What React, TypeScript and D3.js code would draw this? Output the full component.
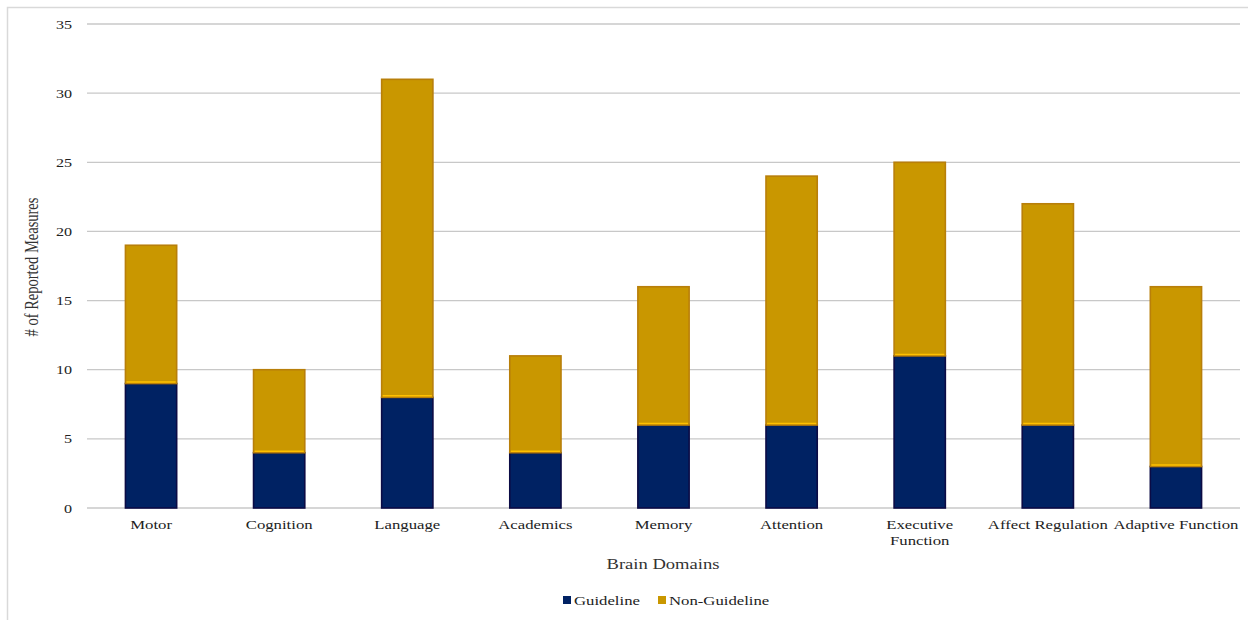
import React from "react";
import * as d3 from "d3";

const categories = ["Motor", "Cognition", "Language", "Academics", "Memory", "Attention", "Executive Function", "Affect Regulation", "Adaptive Function"];
const guideline = [9, 4, 8, 4, 6, 6, 11, 6, 3];
const nonGuideline = [10, 6, 23, 7, 10, 18, 14, 16, 13];
const yTicks = [0, 5, 10, 15, 20, 25, 30, 35];
const seriesNames = ["Guideline", "Non-Guideline"];

const W = 1248, H = 620;
const M = { left: 87, right: 8, top: 24, bottom: 112 };
const FONT = "'Liberation Serif', 'Times New Roman', serif";
const SX = 1.24;

function T({ x, y, anchor = "start", size = 13.5, fill = "#222", rotate = 0, children }: any) {
  return (
    <text transform={`translate(${x},${y}) scale(${SX},1) rotate(${rotate})`} textAnchor={anchor}
      fontFamily={FONT} fontSize={size} fill={fill}>{children}</text>
  );
}

export default function App() {
  const x = d3.scaleBand<string>().domain(categories).range([M.left, W - M.right]).paddingInner(0.6).paddingOuter(0.3);
  const y = d3.scaleLinear().domain([0, 35]).range([H - M.bottom, M.top]);
  const rows = categories.map((c, i) => ({ cat: c, Guideline: guideline[i], "Non-Guideline": nonGuideline[i] }));
  const stack = d3.stack<any>().keys(seriesNames)(rows);
  const fills = ["#002263", "#C99700"];
  const strokes = ["#0b0b45", "#b87f0a"];
  return (
    <svg width={W} height={H} style={{ position: "absolute", left: 0, top: 0, background: "#fff" }}>
      <rect x={7.5} y={7.5} width={W + 10} height={H + 10} fill="#fff" stroke="#d9d9d9" strokeWidth={1.5} />
      {yTicks.map(t => (
        <g key={t}>
          <line x1={M.left} x2={W - M.right} y1={y(t)} y2={y(t)} stroke="#c8c8c8" strokeWidth={1.3} />
          <T x={72} y={y(t) + 4.5} anchor="end" size={13}>{t}</T>
        </g>
      ))}
      {stack.map((s, si) => (
        <g key={si}>
          {s.map((d, i) => (
            <rect key={i} x={x(categories[i])!} width={x.bandwidth()} y={y(d[1])} height={y(d[0]) - y(d[1])}
              fill={fills[si]} stroke={strokes[si]} strokeWidth={1.6} />
          ))}
        </g>
      ))}
      {stack[0].map((d, i) => (
        <line key={i} x1={x(categories[i])! + 1} x2={x(categories[i])! + x.bandwidth() - 1} y1={y(d[1]) - 1.5} y2={y(d[1]) - 1.5} stroke="#ffc000" strokeWidth={1.5} />
      ))}
      {categories.map(c => {
        const cx = x(c)! + x.bandwidth() / 2;
        const lines = c === "Executive Function" ? ["Executive", "Function"] : [c];
        return (
          <g key={c}>
            {lines.map((l, k) => <T key={k} x={cx} y={529 + k * 16} anchor="middle" size={13.5}>{l}</T>)}
          </g>
        );
      })}
      <T x={663} y={569} anchor="middle" size={15} fill="#333">Brain Domains</T>
      <T x={38} y={267} anchor="middle" size={14.5} fill="#333" rotate={-90}># of Reported Measures</T>
      <rect x={563} y={596} width={8} height={8} fill={fills[0]} />
      <T x={574} y={604.5} size={13.5}>{seriesNames[0]}</T>
      <rect x={658} y={596} width={8} height={8} fill={fills[1]} />
      <T x={669} y={604.5} size={13.5}>{seriesNames[1]}</T>
    </svg>
  );
}
